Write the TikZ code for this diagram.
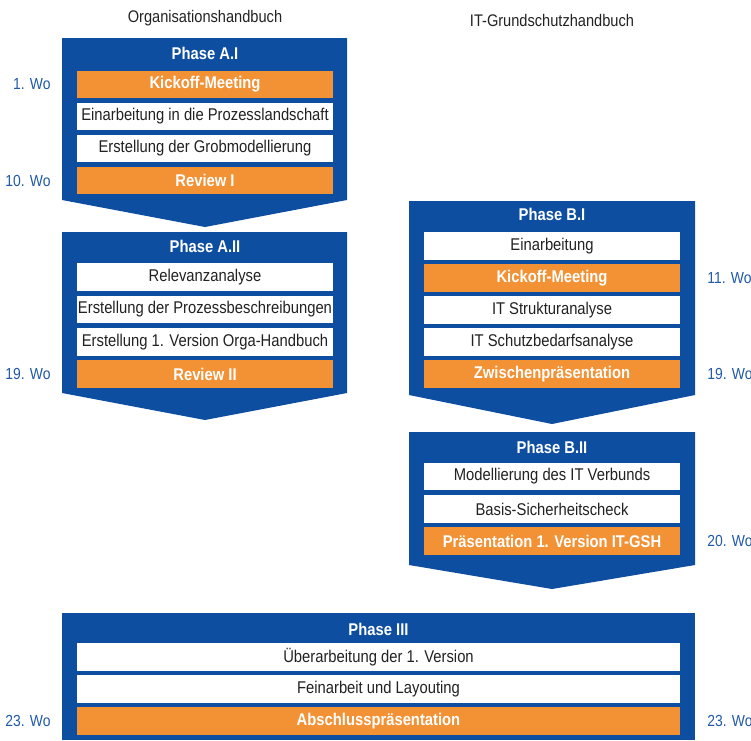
\documentclass[tikz,border=0pt]{standalone}
\usepackage{fontspec}
\setmainfont[FakeStretch=0.87]{Liberation Sans}
\usetikzlibrary{positioning}
\definecolor{gsblue}{RGB}{14,78,160}
\definecolor{gsorange}{RGB}{243,145,53}
\definecolor{gslabel}{RGB}{32,89,168}
\definecolor{gstext}{RGB}{34,34,34}
\tikzset{
	phase/.style={fill=gsblue},
	phasetitle/.style={text=white, font=\fontsize{17}{20}\selectfont\bfseries},
	task/.style={fill=white, text=gstext, minimum width=256pt, minimum height=27.5pt, inner sep=0pt, font=\fontsize{17}{20}\selectfont},
	milestone/.style={task, fill=gsorange, text=white, font=\fontsize{17}{20}\selectfont\bfseries},
	wide/.style={minimum width=603pt},
	wo/.style={text=gslabel, inner sep=0pt, font=\fontsize{16}{19}\selectfont},
	head/.style={text=gstext, font=\fontsize{16.8}{19}\selectfont}
}
\begin{document}
\begin{tikzpicture}[x=1pt, y=-1pt]
	\useasboundingbox (0,0) rectangle (751,740);
	% headings
	\node [head] (orga) at (205,18) {Organisationshandbuch};
	\node [head] (itgsh) at (552,20) {IT-Grundschutzhandbuch};

	% Phase A.I
	\fill [phase] (62,38) -- (347,38) -- (347,200) -- (205,227) -- (62,200) -- cycle;
	\node [phasetitle] (tAI) at (205,53) {Phase A.I};
	\node [milestone] (kickA) at (205,84.5) {Kickoff-Meeting};
	\node [task] (einA) at (205,116.5) {Einarbeitung in die Prozesslandschaft};
	\node [task] (grob) at (205,148.5) {Erstellung der Grobmodellierung};
	\node [milestone] (rev1) at (205,180.5) {Review I};
	\node [wo, left=26pt of kickA] (w1) {1. Wo};
	\node [wo, left=26pt of rev1] (w10) {10. Wo};

	% Phase A.II
	\fill [phase] (62,232) -- (347,232) -- (347,393) -- (205,420) -- (62,393) -- cycle;
	\node [phasetitle] (tAII) at (205,246) {Phase A.II};
	\node [task] (relev) at (205,277) {Relevanzanalyse};
	\node [task] (procdesc) at (205,309.5) {Erstellung der Prozessbeschreibungen};
	\node [task] (orgav1) at (205,342) {Erstellung 1. Version Orga-Handbuch};
	\node [milestone] (rev2) at (205,374) {Review II};
	\node [wo, left=26pt of rev2] (w19a) {19. Wo};

	% Phase B.I
	\fill [phase] (409,201) -- (695,201) -- (695,395) -- (552,424) -- (409,395) -- cycle;
	\node [phasetitle] (tBI) at (552,214) {Phase B.I};
	\node [task] (einB) at (552,246) {Einarbeitung};
	\node [milestone] (kickB) at (552,278) {Kickoff-Meeting};
	\node [task] (struct) at (552,310) {IT Strukturanalyse};
	\node [task] (schutz) at (552,342) {IT Schutzbedarfsanalyse};
	\node [milestone] (zwis) at (552,374) {Zwischenpräsentation};
	\node [wo, right=27pt of kickB] (w11) {11. Wo};
	\node [wo, right=27pt of zwis] (w19b) {19. Wo};

	% Phase B.II
	\fill [phase] (409,432) -- (695,432) -- (695,565) -- (552,589) -- (409,565) -- cycle;
	\node [phasetitle] (tBII) at (552,447) {Phase B.II};
	\node [task] (verbund) at (552,476.5) {Modellierung des IT Verbunds};
	\node [task] (basis) at (552,509) {Basis-Sicherheitscheck};
	\node [milestone] (praes) at (552,541) {Präsentation 1. Version IT-GSH};
	\node [wo, right=27pt of praes] (w20) {20. Wo};

	% Phase III
	\fill [phase] (62,613) rectangle (695,740);
	\node [phasetitle] (tIII) at (378.5,629) {Phase III};
	\node [task, wide] (ueber) at (378.5,657) {Überarbeitung der 1. Version};
	\node [task, wide] (fein) at (378.5,689) {Feinarbeit und Layouting};
	\node [milestone, wide] (absch) at (378.5,721) {Abschlusspräsentation};
	\node [wo, left=26pt of absch] (w23a) {23. Wo};
	\node [wo, right=27pt of absch] (w23b) {23. Wo};
\end{tikzpicture}
\end{document}
